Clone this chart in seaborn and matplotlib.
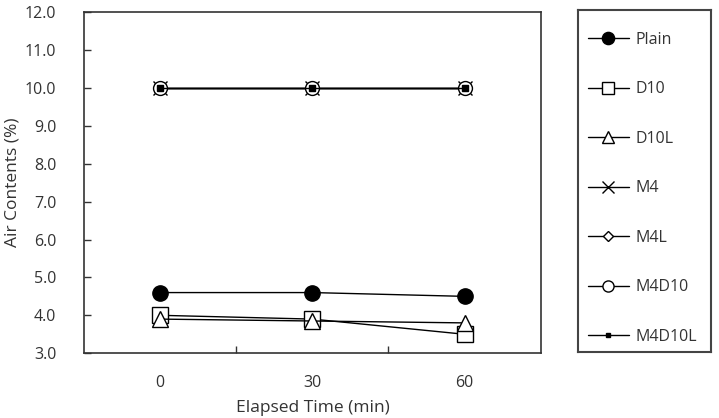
import numpy as np
import pandas as pd
import matplotlib
matplotlib.use("Agg")
import matplotlib.pyplot as plt
import seaborn as sns

# Data
times = ["0", "30", "60"]
plain = [4.6, 4.6, 4.5]
d10 = [4.0, 3.9, 3.5]
d10l = [3.9, 3.85, 3.8]
m4 = [10.0, 10.0, 10.0]
m4l = [10.0, 10.0, 10.0]
m4d10 = [10.0, 10.0, 10.0]
m4d10l = [10.0, 10.0, 10.0]

series = ["Plain", "D10", "D10L", "M4", "M4L", "M4D10", "M4D10L"]
values = [plain, d10, d10l, m4, m4l, m4d10, m4d10l]

# marker, size, face colour per series
styles = {
    "Plain": ("o", 11, "black"),
    "D10": ("s", 11, "white"),
    "D10L": ("^", 11, "white"),
    "M4": ("x", 10, "black"),
    "M4L": ("D", 7, "white"),
    "M4D10": ("o", 10, "white"),
    "M4D10L": ("s", 4, "black"),
}

sns.set_style("white")
plt.rcParams["font.family"] = ["Open Sans", "DejaVu Sans"]

fig = plt.figure(figsize=(7.19, 4.18), dpi=100)
ax = fig.add_axes([0.117, 0.155, 0.635, 0.816])

pos = np.arange(len(times))
for name, vals in zip(series, values):
    mk, ms, fc = styles[name]
    sns.lineplot(x=pos, y=vals, ax=ax, color="black", linewidth=1.0,
                 marker=mk, markersize=ms, markerfacecolor=fc,
                 markeredgecolor="black", markeredgewidth=1.0, label=name)

ax.set_xlim(-0.5, 2.5)
ax.set_ylim(3, 12)
ax.set_yticks(np.arange(3, 12.1, 1))
ax.set_yticklabels([f"{v:.1f}" for v in np.arange(3, 12.1, 1)])
ax.set_xticks(pos)
ax.set_xticklabels(times)
ax.set_xticks([0.5, 1.5], minor=True)
ax.tick_params(axis="x", which="major", length=0, pad=16, labelsize=11.5, colors="#333333")
ax.tick_params(axis="x", which="minor", direction="in", length=5, width=1, color="#333333", bottom=True)
ax.tick_params(axis="y", direction="in", length=5, width=1, pad=20, labelsize=11.5,
               colors="#333333", left=True)
for sp in ax.spines.values():
    sp.set_color("#333333")
    sp.set_linewidth(1.2)

ax.set_xlabel("Elapsed Time (min)", fontsize=12.5, color="#333333", labelpad=6)
ax.set_ylabel("Air Contents (%)", fontsize=12.5, color="#333333", labelpad=3)

handles, labels = ax.get_legend_handles_labels()
ax.get_legend().remove()

# separate boxed legend panel on the right
lax = fig.add_axes([0.804, 0.158, 0.185, 0.818])
lax.set_xticks([])
lax.set_yticks([])
for sp in lax.spines.values():
    sp.set_color("#444444")
    sp.set_linewidth(1.5)
lax.legend(handles, labels, loc="upper left", frameon=False, fontsize=11.5,
           labelspacing=2.1, handlelength=2.6, handletextpad=0.4, markerscale=0.8,
           borderaxespad=0.2, bbox_to_anchor=(0.0, 0.965), labelcolor="#333333")

fig.savefig("out.png", dpi=100)
